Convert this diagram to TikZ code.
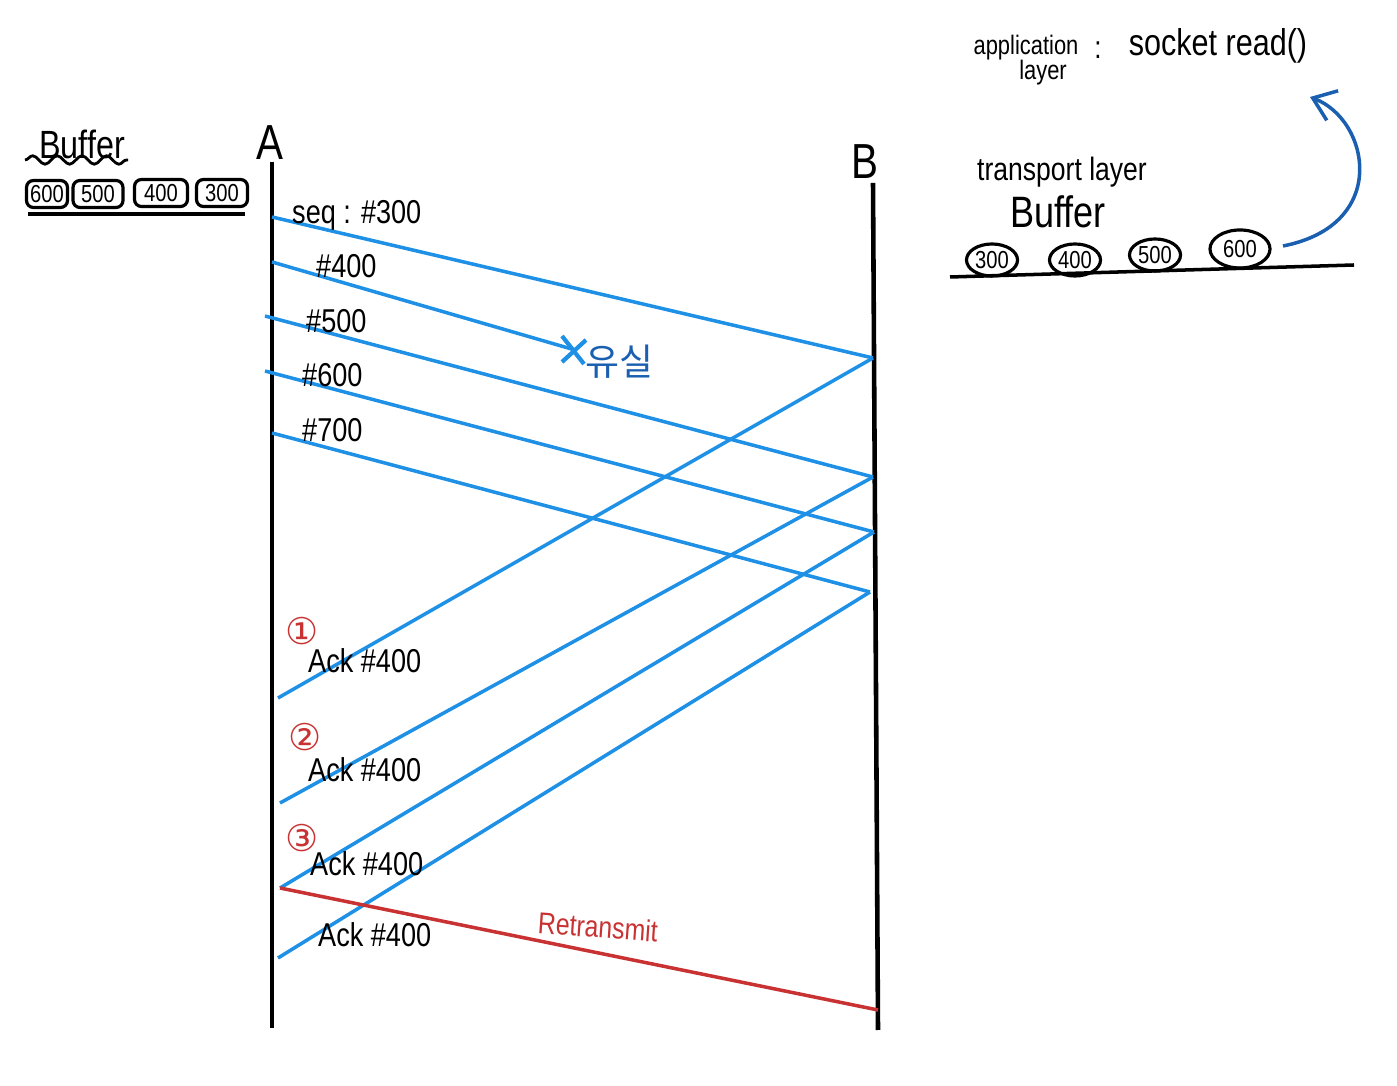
\documentclass[tikz,border=0pt]{standalone}
\usepackage{fontspec}
\setmainfont[FakeStretch=0.82]{Liberation Sans}
\newfontfamily\krfont{Noto Sans CJK KR}
\newfontfamily\djfont{DejaVu Sans}
\usetikzlibrary{decorations.pathmorphing,arrows.meta,shapes.geometric}
\definecolor{pktblue}{RGB}{30,144,230}
\definecolor{retxred}{RGB}{200,50,50}
\definecolor{darkarrow}{RGB}{26,95,176}
\tikzset{
  timeline/.style={line width=1.3pt,black},
  pkt/.style={line width=1pt,pktblue},
  retx/.style={line width=1pt,retxred},
  lbl/.style={font=\fontsize{9.4}{11}\selectfont,inner sep=1pt,text height=1.55ex,text depth=0.1ex},
  circnum/.style={font=\djfont\fontsize{10.5}{12}\selectfont,text=retxred,inner sep=0pt,text height=1.3ex,text depth=0.1ex},
  bufbox/.style={draw,line width=0.9pt,rounded corners=2pt,minimum height=0.27cm,inner sep=0.5pt,font=\fontsize{7}{8}\selectfont},
  bufcirc/.style={draw,ellipse,line width=0.9pt,inner sep=0pt,minimum width=0.51cm,minimum height=0.32cm,font=\fontsize{7}{8}\selectfont},
}
\begin{document}
\begin{tikzpicture}[x=0.01cm,y=-0.01cm]
\useasboundingbox (0,0) rectangle (1397,1086);
% host labels and timelines
\node[font=\fontsize{14}{15}\selectfont] (hA) at (270,143) {A};
\node[font=\fontsize{14}{15}\selectfont] (hB) at (865,162) {B};
\coordinate (Atop) at (272,162);
\coordinate (Abot) at (272,1028);
\coordinate (Btop) at (873,183);
\coordinate (Bbot) at (878,1030);
\draw[timeline] (Atop) -- (Abot);
\draw[timeline] (Btop) -- (Bbot);
% data segment endpoints
\coordinate (s1a) at (272,217); \coordinate (s1b) at (873,358);
\coordinate (s2a) at (272,262); \coordinate (s2b) at (575,350);
\coordinate (s3a) at (265,316); \coordinate (s3b) at (873,477);
\coordinate (s4a) at (265,371); \coordinate (s4b) at (874,532);
\coordinate (s5a) at (272,433); \coordinate (s5b) at (870,592);
\draw[pkt] (s1a) -- (s1b);
\draw[pkt] (s2a) -- (s2b);
\draw[pkt] (s3a) -- (s3b);
\draw[pkt] (s4a) -- (s4b);
\draw[pkt] (s5a) -- (s5b);
% ack endpoints
\coordinate (k1) at (278,698);
\coordinate (k2) at (280,803);
\coordinate (k3) at (280,888);
\coordinate (k4) at (278,958);
\draw[pkt] (s1b) -- (k1);
\draw[pkt] (s3b) -- (k2);
\draw[pkt] (s4b) -- (k3);
\draw[pkt] (s5b) -- (k4);
% retransmit
\coordinate (r1) at (878,1010);
\draw[retx] (k3) -- (r1);
% loss mark
\coordinate (xa) at (562,336); \coordinate (xb) at (584,364);
\coordinate (xc) at (562,362); \coordinate (xd) at (586,340);
\draw[pkt,line width=1.2pt] (xa) -- (xb);
\draw[pkt,line width=1.2pt] (xc) -- (xd);
\node[font=\krfont\fontsize{10.5}{12}\selectfont,text=darkarrow] (loss) at (619,362) {유실};
% segment labels
\node[lbl,anchor=west] (l1) at (288,210) {seq : \#300};
\node[lbl,anchor=west] (l2) at (312,264) {\#400};
\node[lbl,anchor=west] (l3) at (302,319) {\#500};
\node[lbl,anchor=west] (l4) at (298,373) {\#600};
\node[lbl,anchor=west] (l5) at (298,428) {\#700};
% ack labels
\node[circnum] (c1) at (302,633) {①};
\node[lbl,anchor=west] (a1) at (304,659) {Ack \#400};
\node[circnum] (c2) at (305,739) {②};
\node[lbl,anchor=west] (a2) at (304,768) {Ack \#400};
\node[circnum] (c3) at (302,840) {③};
\node[lbl,anchor=west] (a3) at (306,862) {Ack \#400};
\node[lbl,anchor=west] (a4) at (314,933) {Ack \#400};
\node[font=\fontsize{8.6}{10}\selectfont,text=retxred,rotate=-4] (rt) at (598,927) {Retransmit};
% left buffer
\node[font=\fontsize{11.2}{13}\selectfont] (lbuf) at (82,144) {Buffer};
\coordinate (w1) at (25,160); \coordinate (w2) at (128,160);
\draw[line width=0.8pt,decorate,decoration={snake,amplitude=1.2pt,segment length=7pt}] (w1) -- (w2);
\node[bufbox,minimum width=0.41cm] (b600) at (47,194) {600};
\node[bufbox,minimum width=0.5cm] (b500) at (98,194) {500};
\node[bufbox,minimum width=0.53cm] (b400) at (161,193) {400};
\node[bufbox,minimum width=0.51cm] (b300) at (222,193) {300};
\coordinate (u1) at (28,214); \coordinate (u2) at (245,214);
\draw[line width=1pt] (u1) -- (u2);
% right side
\node[font=\fontsize{7.6}{9}\selectfont] (app1) at (1026,48) {application};
\node[font=\fontsize{7.6}{9}\selectfont] (app2) at (1043,73) {layer};
\node[font=\fontsize{9}{10}\selectfont] (colon) at (1098,50) {:};
\node[font=\fontsize{10.6}{12}\selectfont] (sock) at (1218,46) {socket read()};
\node[font=\fontsize{9.2}{11}\selectfont] (tl) at (1062,172) {transport layer};
\node[font=\fontsize{12.5}{14}\selectfont] (rbuf) at (1058,212) {Buffer};
\node[bufcirc] (e300) at (992,260) {300};
\node[bufcirc] (e400) at (1075,260) {400};
\node[bufcirc] (e500) at (1155,255) {500};
\node[bufcirc,minimum width=0.6cm,minimum height=0.38cm] (e600) at (1240,249) {600};
\coordinate (g1) at (950,277); \coordinate (g2) at (1354,265);
\draw[line width=1pt] (g1) -- (g2);
\coordinate (arrs) at (1283,246);
\coordinate (arre) at (1310,97);
\draw[darkarrow,line width=1pt,-{Straight Barb[length=6pt,width=9pt]}] (arrs) .. controls (1390,225) and (1370,120) .. (arre);
\end{tikzpicture}
\end{document}
